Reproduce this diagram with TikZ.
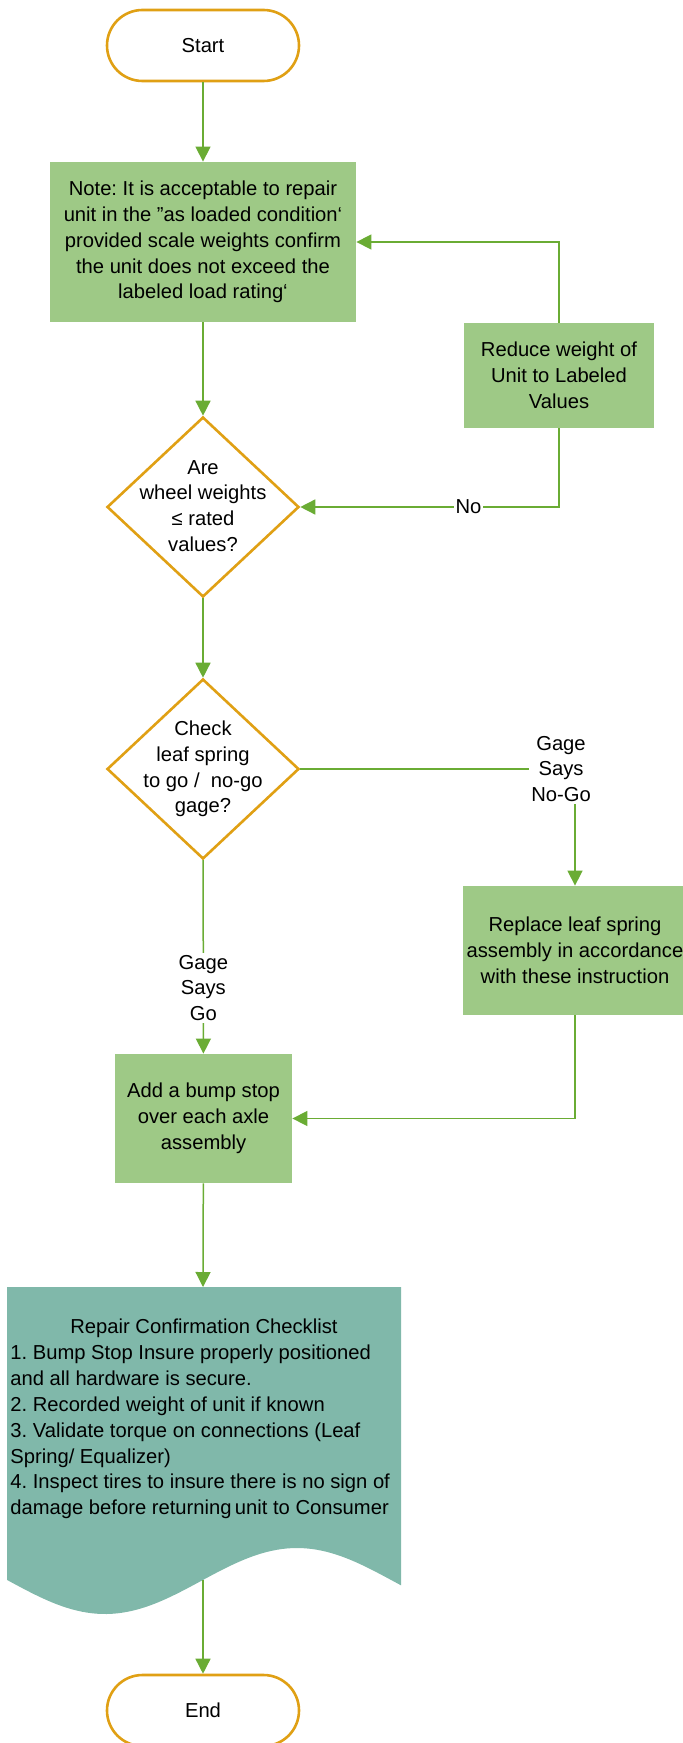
\documentclass[tikz,border=0pt]{standalone}
\usepackage{fontspec}
\setmainfont{Liberation Sans}
\usetikzlibrary{arrows.meta, shapes.geometric}
\definecolor{boxgreen}{RGB}{158,201,134}
\definecolor{linegreen}{RGB}{106,172,52}
\definecolor{termorange}{RGB}{224,160,20}
\definecolor{chkteal}{RGB}{128,184,170}
\frenchspacing

\begin{document}
\begin{tikzpicture}[x=0.5pt, y=-0.5pt,
		every node/.style={font=\fontsize{10.1}{12.9}\selectfont},
		term/.style={draw=termorange, line width=1.3pt, fill=white, rounded corners=17.75pt, minimum width=96pt, minimum height=35.5pt},
		procbox/.style={fill=boxgreen, align=center, inner sep=0pt},
		decision/.style={diamond, draw=termorange, line width=1.3pt, fill=white, minimum width=96pt, minimum height=90pt, inner sep=0pt},
		flow/.style={draw=linegreen, line width=0.75pt, -{Triangle[length=7.5pt, width=7.5pt]}},
		lbl/.style={fill=white, align=center, inner sep=1pt}]
		\useasboundingbox (0,0) rectangle (682,1743);
		
		% Start terminal
		\node[term] (start) at (203,45.5) {Start};
		
		% Note on loaded condition
		\node[procbox, minimum width=153pt, minimum height=80pt] (note) at (203,242) {Note: It is acceptable to repair\\unit in the ”as loaded condition‘\\provided scale weights confirm\\the unit does not exceed the\\labeled load rating‘};
		
		% Weight decision
		\node[decision] (wts) at (203,507) {};
		\node[align=center] (wtstxt) at (203,506) {Are\\wheel weights\\≤ rated\\values?};
		
		% Reduce weight box
		\node[procbox, minimum width=95pt, minimum height=52.5pt] (reduce) at (559,375.5) {Reduce weight of\\Unit to Labeled\\Values};
		
		% Gage decision
		\node[decision] (gage) at (203,769) {};
		\node[align=center] (gagetxt) at (203,769) {Check\\leaf spring\\to go /~ no-go\\gage?};
		
		% Replace leaf spring box
		\node[procbox, minimum width=112pt, minimum height=64.5pt] (replace) at (575,950.5) {Replace leaf spring\\assembly in accordance\\with these instruction};
		
		% Bump stop box
		\node[procbox, minimum width=88.5pt, minimum height=64.5pt] (bump) at (203.5,1118.5) {Add a bump stop\\over each axle\\assembly};
		
		% Checklist document
		\fill[chkteal] (7,1287) -- (401,1287) -- (401,1581) -- plot[domain=401:7, samples=80] (\x,{1581+33*sin(0.9375*(\x-9))}) -- cycle;
		\coordinate (chktop) at (203,1287);
		\coordinate (chkbot) at (203,1580);
		\node (chktitle) at (204,1328) {Repair Confirmation Checklist};
		\node[anchor=west, align=left, inner sep=0pt] (chklist) at (10,1432) {1. Bump Stop Insure properly positioned\\and all hardware is secure.\\2. Recorded weight of unit if known\\3. Validate torque on connections (Leaf\\Spring/ Equalizer)\\4. Inspect tires to insure there is no sign of\\damage before returning\,unit to Consumer};
		
		% End terminal
		\node[term] (end) at (203,1710.5) {End};
		
		% Connectors
		\draw[flow] (start) -- (note);
		\draw[flow] (note) -- (wts);
		\draw[flow] (reduce.north) |- (note.east);
		\draw[flow] (reduce.south) |- node[lbl, pos=0.675] (nolbl) {No} (wts.east);
		\draw[flow] (wts) -- (gage);
		\draw[flow] (gage.east) -| node[lbl, pos=0.5, xshift=-7pt] (nogolbl) {Gage\\Says\\No-Go} (replace.north);
		\draw[flow] (gage) -- node[lbl, pos=0.66] (golbl) {Gage\\Says\\Go} (bump);
		\draw[flow] (replace.south) |- (bump.east);
		\draw[flow] (bump) -- (chktop);
		\draw[flow] (chkbot) -- (end);
		
	\end{tikzpicture}
\end{document}
